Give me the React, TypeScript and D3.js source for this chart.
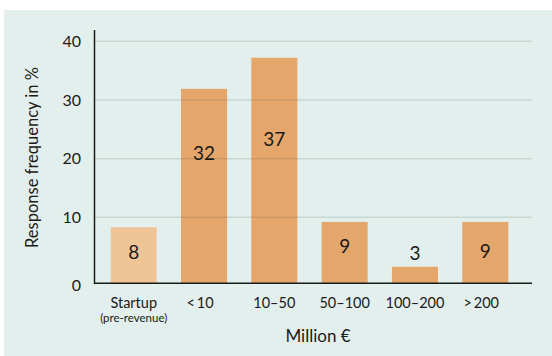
import React from "react";
import * as d3 from "d3";

const categories = ["Startup", "<10", "10–50", "50–100", "100–200", ">200"];
const subLabels = ["(pre-revenue)", "", "", "", "", ""];
const values = [8.5, 31.9, 37.2, 9.3, 2.5, 9.3];
const valueLabels = ["8", "32", "37", "9", "3", "9"];
const labelPositions = [4.7, 21.0, 23.4, 5.65, 4.6, 4.8];
const lightBars = [true, false, false, false, false, false];
const yTicks = [0, 10, 20, 30, 40];
const yTitle = "Response frequency in %";
const xTitle = "Million €";

const W = 552;
const H = 356;
const FONT = "Lato, 'Noto Sans', sans-serif";

export default function App() {
  const x = d3
    .scaleBand<string>()
    .domain(categories)
    .range([91, 528])
    .paddingInner(0.345)
    .paddingOuter(0.28);
  const y = d3.scaleLinear().domain([0, 10, 40]).range([283.3, 217.3, 41.3]);
  const x0 = 94.5;
  const x1 = 532;

  return (
    <div style={{ position: "absolute", left: 0, top: 0 }}>
      <svg width={W} height={H} style={{ display: "block" }} fontFamily={FONT}>
        <rect x={4} y={10} width={W - 4} height={H - 10} fill="#E2EFEC" />
        {categories.map((c, i) => (
          <rect
            key={c}
            x={x(c)}
            y={y(values[i])}
            width={x.bandwidth()}
            height={y(0) - y(values[i])}
            fill={lightBars[i] ? "#EFC497" : "#E5A66B"}
          />
        ))}
        {yTicks
          .filter((t) => t > 0)
          .map((t) => (
            <line
              key={t}
              x1={x0}
              x2={x1}
              y1={y(t)}
              y2={y(t)}
              stroke="rgba(60,80,75,0.15)"
              strokeWidth={1.5}
            />
          ))}
        {categories.map((c, i) => (
          <text
            key={"v" + c}
            x={(x(c) as number) + x.bandwidth() / 2}
            y={y(labelPositions[i])}
            dy="0.36em"
            textAnchor="middle"
            fontSize={19}
            fill="#1a1a1a"
          >
            {valueLabels[i]}
          </text>
        ))}
        <line x1={x0} x2={x0} y1={30} y2={y(0) + 0.75} stroke="#1a1a1a" strokeWidth={1.5} />
        <line x1={x0} x2={x1} y1={y(0)} y2={y(0)} stroke="#1a1a1a" strokeWidth={1.5} />
        {yTicks.map((t) => (
          <text
            key={"t" + t}
            x={81}
            y={y(t) + (t === 0 ? 1.5 : 0)}
            dy="0.36em"
            textAnchor="end"
            fontSize={16}
            fill="#1a1a1a"
          >
            {t}
          </text>
        ))}
        {categories.map((c, i) => {
          const cx = (x(c) as number) + x.bandwidth() / 2;
          const hasPrefix = c.startsWith("<") || c.startsWith(">");
          return (
            <g key={"x" + c}>
              <text
                x={cx}
                y={308}
                dx={hasPrefix ? -4 : 0}
                textAnchor="middle"
                fontSize={14.5}
                fill="#1a1a1a"
              >
                {hasPrefix ? c[0] + "\u2009" + c.slice(1) : c}
              </text>
              {subLabels[i] && (
                <text x={cx} y={322} textAnchor="middle" fontSize={11.5} fill="#1a1a1a">
                  {subLabels[i]}
                </text>
              )}
            </g>
          );
        })}
        <text x={318} y={342} textAnchor="middle" fontSize={17} fill="#1a1a1a">
          {xTitle}
        </text>
        <text
          transform="translate(37.5,157.5) rotate(-90)"
          textAnchor="middle"
          fontSize={16.5}
          fill="#1a1a1a"
        >
          {yTitle}
        </text>
      </svg>
    </div>
  );
}
